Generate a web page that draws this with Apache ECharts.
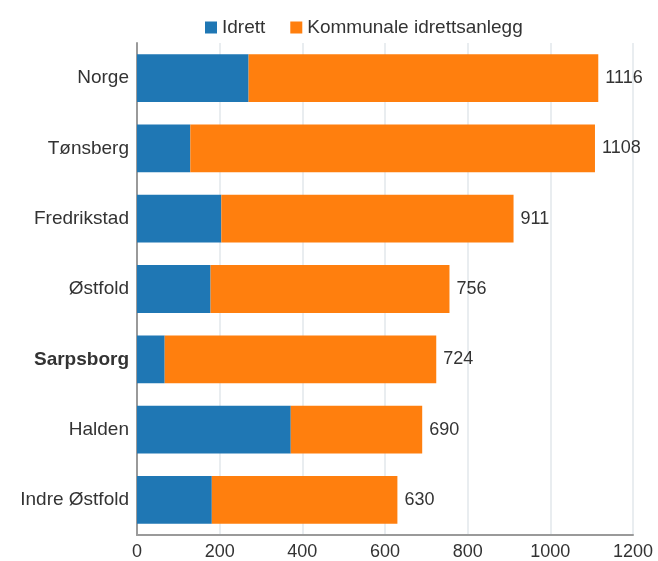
<!DOCTYPE html>
<html>
<head>
<meta charset="utf-8">
<script src="https://cdn.jsdelivr.net/npm/echarts@6/dist/echarts.min.js"></script>
<style>
	html, body { margin: 0; padding: 0; background: #fff; }
	#chart { width: 658px; height: 561px; }
</style>
</head>
<body>
<div id="chart"></div>
<script>
/*kategorier og verdier*/
var steder = ['Norge', 'Tønsberg', 'Fredrikstad', 'Østfold', 'Sarpsborg', 'Halden', 'Indre Østfold'];
var idrett = [270, 129, 204, 178, 67, 372, 181];
var kommunale = [846, 979, 707, 578, 657, 318, 449];
var totalt = [1116, 1108, 911, 756, 724, 690, 630];
var xTicks = [0, 200, 400, 600, 800, 1000, 1200];

var fontFam = '"Liberation Sans", Arial, sans-serif';
var tekst = '#333';

var chart = echarts.init(document.getElementById('chart'));
var option = {
	animation: false,
	color: ['#1f77b4', '#ff7f0e'],
	textStyle: { fontFamily: fontFam },
	legend: {
		left: 200,
		top: 13,
		itemWidth: 12,
		itemHeight: 12,
		itemGap: 25,
		icon: 'rect',
		textStyle: { fontSize: 19, color: tekst, fontFamily: fontFam },
		data: ['Idrett', 'Kommunale idrettsanlegg']
	},
	grid: {
		left: 137,
		right: 25,
		top: 43,
		bottom: 24,
		containLabel: false
	},
	xAxis: {
		type: 'value',
		min: xTicks[0],
		max: xTicks[xTicks.length - 1],
		interval: 200,
		axisLine: { show: true, lineStyle: { color: '#9a9a9a', width: 2 } },
		axisTick: { show: false },
		axisLabel: {
			fontSize: 18,
			color: tekst,
			margin: 8,
			fontFamily: fontFam,
			formatter: function (v) {
				return String(v);
			}
		},
		splitLine: { show: true, lineStyle: { color: '#e2e7eb', width: 1.5 } }
	},
	yAxis: {
		type: 'category',
		inverse: true,
		data: steder,
		axisLine: { show: true, lineStyle: { color: '#9a9a9a', width: 2 } },
		axisTick: { show: false },
		axisLabel: {
			fontSize: 19,
			color: tekst,
			margin: 8,
			fontFamily: fontFam,
			formatter: function (value) {
				if (value == 'Sarpsborg') {
					return '{b|' + value + '}';
				}
				return value;
			},
			rich: {
				b: { fontSize: 19, fontWeight: 'bold', color: tekst, fontFamily: fontFam }
			}
		}
	},
	series: [{
		name: 'Idrett',
		type: 'bar',
		stack: 'sum',
		barCategoryGap: '32%',
		data: idrett
	}, {
		name: 'Kommunale idrettsanlegg',
		type: 'bar',
		stack: 'sum',
		barCategoryGap: '32%',
		data: kommunale,
		label: {
			show: true,
			position: 'right',
			distance: 7,
			fontSize: 18,
			color: tekst,
			fontFamily: fontFam,
			formatter: function (p) {
				return totalt[p.dataIndex];
			}
		}
	}]
};
chart.setOption(option);
</script>
</body>
</html>
